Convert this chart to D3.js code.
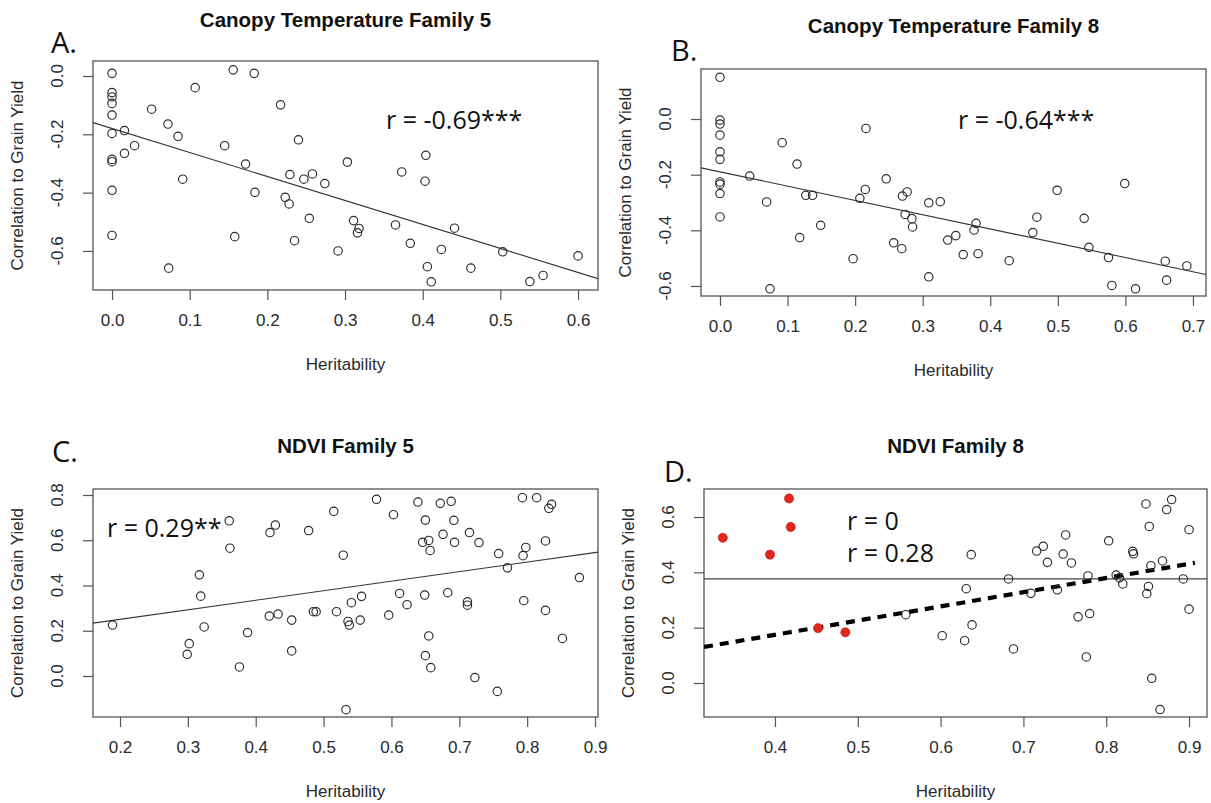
<!DOCTYPE html>
<html>
<head>
<meta charset="utf-8">
<script src="https://cdn.jsdelivr.net/npm/d3@7"></script>
<style>
  body { margin: 0; background: #fff; }
  svg { display: block; }
  .tick-lab, .ax-title { font-family: "Liberation Sans", Arial, sans-serif; font-size: 17px; fill: #2a2a2a; }
  .title { font-family: "Liberation Sans", Arial, sans-serif; font-weight: bold; font-size: 20.5px; fill: #111; }
  .note { font-family: "Open Sans", sans-serif; font-size: 25px; fill: #111; }
  .letter { font-family: "Open Sans", sans-serif; font-size: 29px; fill: #111; }
</style>
</head>
<body>
<script>
// values (heritability vs correlation to grain yield)

// A. Canopy Temperature Family 5
var aHerit = [0,0,0,0,0,0,0,0,0,0,
  0.016,0.016,0.029,0.051,0.072,0.085,0.091,0.073,0.107,0.145,0.156,0.158,0.172,0.183,0.184,
  0.217,0.229,0.240,0.223,0.228,0.247,0.258,0.254,0.235,0.274,0.303,0.291,0.311,0.318,0.316,
  0.365,0.373,0.384,0.404,0.403,0.406,0.411,0.424,0.441,0.462,0.503,0.538,0.555,0.600];
var aCorr = [0.009,-0.057,-0.072,-0.094,-0.134,-0.197,-0.286,-0.294,-0.392,-0.547,
  -0.187,-0.265,-0.239,-0.114,-0.165,-0.207,-0.354,-0.659,-0.040,-0.239,0.021,-0.551,-0.302,0.009,-0.399,
  -0.099,-0.338,-0.219,-0.416,-0.439,-0.354,-0.336,-0.488,-0.565,-0.369,-0.295,-0.600,-0.496,-0.523,-0.538,
  -0.511,-0.329,-0.574,-0.272,-0.361,-0.654,-0.706,-0.595,-0.522,-0.659,-0.603,-0.705,-0.684,-0.617];

// B. Canopy Temperature Family 8
var bHerit = [0,0,0,0,0,0,0,0,0,0,
  0.044,0.069,0.074,0.092,0.114,0.118,0.127,0.137,0.149,0.197,0.207,0.215,0.216,0.246,0.257,
  0.269,0.270,0.277,0.274,0.284,0.285,0.309,0.326,0.309,0.337,0.349,0.360,0.382,0.379,0.376,
  0.428,0.463,0.469,0.499,0.539,0.546,0.575,0.580,0.599,0.615,0.659,0.661,0.691];
var bCorr = [0.150,-0.004,-0.018,-0.058,-0.118,-0.145,-0.226,-0.234,-0.268,-0.352,
  -0.205,-0.298,-0.610,-0.085,-0.162,-0.426,-0.274,-0.274,-0.382,-0.502,-0.285,-0.253,-0.034,-0.215,-0.445,
  -0.466,-0.277,-0.262,-0.343,-0.358,-0.388,-0.301,-0.297,-0.567,-0.435,-0.419,-0.487,-0.484,-0.375,-0.399,
  -0.509,-0.408,-0.353,-0.256,-0.357,-0.461,-0.498,-0.598,-0.232,-0.610,-0.511,-0.579,-0.528];

// C. NDVI Family 5
var cHerit = [0.189,0.299,0.302,0.317,0.319,0.324,0.361,0.362,0.376,0.388,0.421,0.429,0.420,0.433,0.453,
  0.453,0.478,0.485,0.489,0.515,0.519,0.529,0.536,0.538,0.533,0.541,0.554,0.556,0.578,0.596,
  0.603,0.612,0.623,0.639,0.650,0.646,0.655,0.657,0.649,0.655,0.650,0.658,0.672,0.688,0.676,
  0.692,0.693,0.683,0.712,0.712,0.715,0.729,0.723,0.756,0.758,0.771,0.793,0.814,0.794,0.798,
  0.795,0.827,0.827,0.832,0.836,0.852,0.877];
var cCorr = [0.225,0.096,0.143,0.447,0.353,0.217,0.686,0.565,0.040,0.192,0.634,0.667,0.265,0.274,0.247,
  0.111,0.643,0.284,0.284,0.728,0.284,0.534,0.241,0.225,-0.149,0.324,0.247,0.352,0.781,0.269,
  0.713,0.365,0.315,0.769,0.689,0.591,0.599,0.555,0.358,0.177,0.090,0.037,0.763,0.772,0.626,
  0.688,0.591,0.368,0.328,0.313,0.634,0.590,-0.007,-0.068,0.541,0.478,0.788,0.788,0.532,0.568,
  0.333,0.597,0.290,0.741,0.759,0.166,0.435];

// D. NDVI Family 8 (open points and red highlighted points)
var dHerit = [0.558,0.602,0.629,0.631,0.637,0.638,0.682,0.688,0.709,0.716,0.724,0.729,0.741,0.748,0.751,
  0.758,0.766,0.780,0.776,0.778,0.803,0.812,0.816,0.820,0.832,0.833,0.848,0.852,0.851,0.849,
  0.854,0.855,0.865,0.868,0.873,0.879,0.893,0.900,0.900];
var dCorr = [0.247,0.171,0.153,0.341,0.464,0.210,0.376,0.123,0.324,0.477,0.494,0.436,0.337,0.466,0.535,
  0.434,0.239,0.251,0.094,0.387,0.514,0.390,0.380,0.358,0.476,0.467,0.647,0.566,0.349,0.323,
  0.424,0.017,-0.096,0.441,0.627,0.663,0.376,0.267,0.554];
var dRedHerit = [0.337,0.394,0.417,0.419,0.452,0.485];
var dRedCorr  = [0.525,0.464,0.667,0.564,0.198,0.183];

// fitted lines [intercept, slope]
var aFit = [-0.18, -0.823];
var bFit = [-0.19, -0.513];
var cFit = [0.166, 0.422];
var dFit = [-0.031, 0.513];
var dFlat = 0.376;

// tick labels
var aXTicks = [0, 0.1, 0.2, 0.3, 0.4, 0.5, 0.6];
var aYTicks = [0, -0.2, -0.4, -0.6];
var bXTicks = [0, 0.1, 0.2, 0.3, 0.4, 0.5, 0.6, 0.7];
var bYTicks = [0, -0.2, -0.4, -0.6];
var cXTicks = [0.2, 0.3, 0.4, 0.5, 0.6, 0.7, 0.8, 0.9];
var cYTicks = [0, 0.2, 0.4, 0.6, 0.8];
var dXTicks = [0.4, 0.5, 0.6, 0.7, 0.8, 0.9];
var dYTicks = [0, 0.2, 0.4, 0.6];

var width = 1211, height = 803;
var svg = d3.select("body").append("svg")
    .attr("width", width)
    .attr("height", height);

var fmt = function (d) { return d3.format(".1f")(d).replace("−", "-"); };

function drawPanel(p) {
    var x = d3.scaleLinear().domain(p.xlim).range([p.box[0], p.box[2]]);
    var y = d3.scaleLinear().domain(p.ylim).range([p.box[3], p.box[1]]);
    var g = svg.append("g");

    // axes (R style: ticks outside the box)
    g.append("g")
        .attr("transform", "translate(0," + p.box[3] + ")")
        .call(d3.axisBottom(x).tickValues(p.xt).tickSize(10).tickPadding(14).tickFormat(fmt))
        .call(function (a) {
            a.select(".domain").remove();
            a.selectAll("line").attr("stroke", "#555").attr("stroke-width", 1.2);
            a.selectAll("text").attr("class", "tick-lab");
        });
    g.append("g")
        .attr("transform", "translate(" + p.box[0] + ",0)")
        .call(d3.axisLeft(y).tickValues(p.yt).tickSize(10).tickFormat(fmt))
        .call(function (a) {
            a.select(".domain").remove();
            a.selectAll("line").attr("stroke", "#555").attr("stroke-width", 1.2);
            a.selectAll("text").remove();
        });
    g.selectAll("g.tick text").attr("font-size", null).attr("font-family", null);

    // rotated y tick labels
    g.selectAll(".ylab").data(p.yt).enter().append("text")
        .attr("class", "tick-lab")
        .attr("text-anchor", "middle")
        .attr("transform", function (d) { return "translate(" + (p.box[0] - 25) + "," + y(d) + ") rotate(-90)"; })
        .attr("dy", "-0.3em")
        .text(fmt);

    // box
    g.append("rect")
        .attr("x", p.box[0]).attr("y", p.box[1])
        .attr("width", p.box[2] - p.box[0]).attr("height", p.box[3] - p.box[1])
        .attr("fill", "none").attr("stroke", "#555").attr("stroke-width", 1.3);

    var clip = "clip" + p.id;
    g.append("clipPath").attr("id", clip).append("rect")
        .attr("x", p.box[0]).attr("y", p.box[1])
        .attr("width", p.box[2] - p.box[0]).attr("height", p.box[3] - p.box[1]);

    var inner = g.append("g").attr("clip-path", "url(#" + clip + ")");

    if (p.flat !== undefined) {
        inner.append("line")
            .attr("x1", x(p.xlim[0])).attr("x2", x(p.xlim[1]))
            .attr("y1", y(p.flat)).attr("y2", y(p.flat))
            .attr("stroke", "#444").attr("stroke-width", 1.2);
    }

    // fitted line
    var fx = p.fitRange || p.xlim;
    var line = inner.append("line")
        .attr("x1", x(fx[0])).attr("x2", x(fx[1]))
        .attr("y1", y(p.fit[0] + p.fit[1] * fx[0]))
        .attr("y2", y(p.fit[0] + p.fit[1] * fx[1]));
    if (p.dashed) {
        line.attr("stroke", "#000").attr("stroke-width", 4.2).attr("stroke-dasharray", "9,7");
    } else {
        line.attr("stroke", "#333").attr("stroke-width", 1.1);
    }

    // points
    inner.selectAll(".pt").data(d3.range(p.xs.length)).enter().append("circle")
        .attr("cx", function (i) { return x(p.xs[i]); })
        .attr("cy", function (i) { return y(p.ys[i]); })
        .attr("r", 4.2)
        .attr("fill", "none")
        .attr("stroke", "#2b2b2b")
        .attr("stroke-width", 1.15);

    if (p.redX) {
        inner.selectAll(".red").data(d3.range(p.redX.length)).enter().append("circle")
            .attr("cx", function (i) { return x(p.redX[i]); })
            .attr("cy", function (i) { return y(p.redY[i]); })
            .attr("r", 4.6)
            .attr("fill", "#e5261c")
            .attr("stroke", "#b81a12")
            .attr("stroke-width", 0.6);
    }

    // titles and labels
    var cx = (p.box[0] + p.box[2]) / 2;
    svg.append("text").attr("class", "title").attr("text-anchor", "middle")
        .attr("x", cx).attr("y", p.titleY).text(p.title);
    svg.append("text").attr("class", "ax-title").attr("text-anchor", "middle")
        .attr("x", cx).attr("y", p.box[3] + 80).text("Heritability");
    svg.append("text").attr("class", "ax-title").attr("text-anchor", "middle")
        .attr("transform", "translate(" + (p.box[0] - 70) + "," + ((p.box[1] + p.box[3]) / 2) + ") rotate(-90)")
        .text("Correlation to Grain Yield");
    svg.append("text").attr("class", "letter")
        .attr("x", p.letterPos[0]).attr("y", p.letterPos[1]).text(p.letter);
    p.notes.forEach(function (n) {
        svg.append("text").attr("class", "note").attr("x", n[0]).attr("y", n[1]).text(n[2]);
    });
}

drawPanel({
    id: "A", box: [93, 61, 598, 290], xlim: [-0.0245, 0.6257], ylim: [-0.734, 0.0514],
    xt: aXTicks, yt: aYTicks, xs: aHerit, ys: aCorr, fit: aFit,
    title: "Canopy Temperature Family 5", titleY: 27,
    letter: "A.", letterPos: [51, 53],
    notes: [[386, 129, "r = -0.69***"]]
});
drawPanel({
    id: "B", box: [701, 69, 1206, 296], xlim: [-0.0281, 0.7193], ylim: [-0.636, 0.1797],
    xt: bXTicks, yt: bYTicks, xs: bHerit, ys: bCorr, fit: bFit,
    title: "Canopy Temperature Family 8", titleY: 33,
    letter: "B.", letterPos: [671, 61],
    notes: [[958, 129, "r = -0.64***"]]
});
drawPanel({
    id: "C", box: [93, 489, 598, 717], xlim: [0.1602, 0.9044], ylim: [-0.1812, 0.8265],
    xt: cXTicks, yt: cYTicks, xs: cHerit, ys: cCorr, fit: cFit,
    title: "NDVI Family 5", titleY: 453,
    letter: "C.", letterPos: [52, 462],
    notes: [[107, 537, "r = 0.29**"]]
});
drawPanel({
    id: "D", box: [704, 489, 1207, 717], xlim: [0.3143, 0.9217], ylim: [-0.1229, 0.7012],
    xt: dXTicks, yt: dYTicks, xs: dHerit, ys: dCorr, fit: dFit, dashed: true,
    fitRange: [0.3143, 0.907], flat: dFlat,
    redX: dRedHerit, redY: dRedCorr,
    title: "NDVI Family 8", titleY: 453,
    letter: "D.", letterPos: [664, 482],
    notes: [[847, 530, "r = 0"], [847, 562, "r = 0.28"]]
});
</script>
</body>
</html>
